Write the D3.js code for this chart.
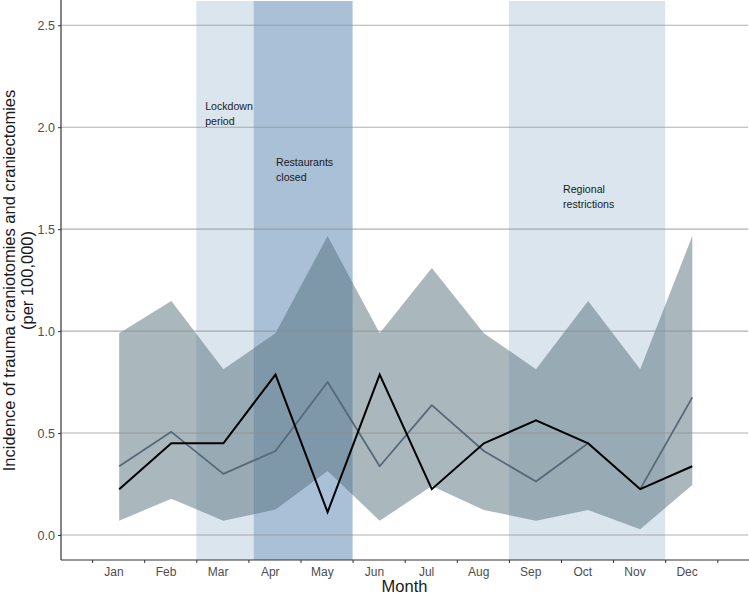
<!DOCTYPE html>
<html><head><meta charset="utf-8">
<script src="https://cdn.jsdelivr.net/npm/d3@7"></script>
<style>body{margin:0;background:#fff}svg{display:block;font-family:"Liberation Sans",Arial,sans-serif}</style>
</head><body><svg id="c" width="749" height="594"></svg>
<script>
const months = ["Jan","Feb","Mar","Apr","May","Jun","Jul","Aug","Sep","Oct","Nov","Dec"];
const observed = [0.225,0.45,0.45,0.787,0.112,0.787,0.225,0.45,0.562,0.45,0.225,0.337];
const expected = [0.337,0.506,0.30,0.412,0.75,0.337,0.637,0.412,0.262,0.45,0.225,0.675];
const upper = [0.99,1.148,0.813,0.99,1.466,0.99,1.31,0.99,0.813,1.148,0.813,1.466];
const lower = [0.07,0.178,0.07,0.125,0.314,0.07,0.24,0.123,0.07,0.123,0.028,0.245];
const yTicks = [0,0.5,1.0,1.5,2.0,2.5];
const periods = [
  {label:["Lockdown","period"], start:2.0, end:3.1, tone:"light", tx:2.17, ty:2.085},
  {label:["Restaurants","closed"], start:3.1, end:5.0, tone:"dark", tx:3.53, ty:1.81},
  {label:["Regional","restrictions"], start:8.0, end:11.0, tone:"light", tx:9.04, ty:1.675}
];

const svg = d3.select("#c");
const L = 61, R = 748, T = 1, B = 560;
const x = d3.scaleLinear().domain([0,12]).range([92.1,717.3]);
const y = d3.scaleLinear().domain([-0.1226,2.619]).range([B,T]);
const xd = i => x(i+0.52);

// bands
svg.append("g").selectAll("rect").data(periods).join("rect")
  .attr("x", d=>x(d.start)).attr("width", d=>x(d.end)-x(d.start))
  .attr("y", T).attr("height", B-T)
  .attr("fill", d=>d.tone==="dark" ? "#a9c0d6" : "#dbe5ed");

// ribbon
const area = d3.area().x((d,i)=>xd(i)).y0((d,i)=>y(lower[i])).y1(d=>y(d));
svg.append("path").datum(upper).attr("d", area)
  .attr("fill","#56707c").attr("fill-opacity",0.5);

// gridlines
svg.append("g").selectAll("line").data(yTicks).join("line")
  .attr("x1",L).attr("x2",R).attr("y1",d=>y(d)).attr("y2",d=>y(d))
  .attr("stroke","#8e8e8e").attr("stroke-opacity",0.7).attr("stroke-width",1.1);

// lines
const line = arr => d3.line().x((d,i)=>xd(i)).y(d=>y(d))(arr);
svg.append("path").attr("d", line(expected)).attr("fill","none")
  .attr("stroke","#56697a").attr("stroke-width",1.8).attr("stroke-linejoin","round");
svg.append("path").attr("d", line(observed)).attr("fill","none")
  .attr("stroke","#000").attr("stroke-width",2).attr("stroke-linejoin","miter");

// annotations
periods.forEach(p=>{
  const t = svg.append("text").attr("x", x(p.tx)).attr("y", y(p.ty))
    .attr("font-size",10.6).attr("fill","#1a1a1a");
  p.label.forEach((s,k)=> t.append("tspan").attr("x", x(p.tx)).attr("dy", k?14.8:0).text(s));
});

// axes
const ya = d3.axisLeft(y).tickValues(yTicks).tickFormat(d3.format(".1f")).tickSize(3).tickPadding(3);
const gy = svg.append("g").attr("transform",`translate(${L},0)`).call(ya);
gy.select(".domain").remove();
gy.selectAll("text").attr("font-size",12.5).attr("fill","#4d4d4d").attr("font-family","Liberation Sans, Arial, sans-serif");
gy.selectAll("line").attr("stroke","#333");

const xa = d3.axisBottom(x).tickValues(d3.range(13)).tickFormat("").tickSize(3);
const gx = svg.append("g").attr("transform",`translate(0,${B})`).call(xa);
gx.select(".domain").remove();
gx.selectAll("line").attr("stroke","#333");
svg.append("g").selectAll("text").data(months).join("text")
  .attr("x",(d,i)=>x(i+0.42)).attr("y",B+16).attr("text-anchor","middle")
  .attr("font-size",12).attr("fill","#4d4d4d").text(d=>d);

svg.append("line").attr("x1",L).attr("x2",L).attr("y1",0).attr("y2",B).attr("stroke","#333").attr("stroke-width",1.2);
svg.append("line").attr("x1",L).attr("x2",R+1).attr("y1",B).attr("y2",B).attr("stroke","#333").attr("stroke-width",1.2);

// titles
svg.append("text").attr("x",(L+R)/2).attr("y",592).attr("text-anchor","middle")
  .attr("font-size",16.5).attr("fill","#1a1a1a").text("Month");
const yt = svg.append("text").attr("transform",`translate(15,${(T+B)/2}) rotate(-90)`)
  .attr("text-anchor","middle").attr("font-size",16.5).attr("fill","#1a1a1a");
yt.append("tspan").attr("x",0).attr("dy",0).text("Incidence of trauma craniotomies and craniectomies");
yt.append("tspan").attr("x",0).attr("dy",17.5).text("(per 100,000)");
</script></body></html>
